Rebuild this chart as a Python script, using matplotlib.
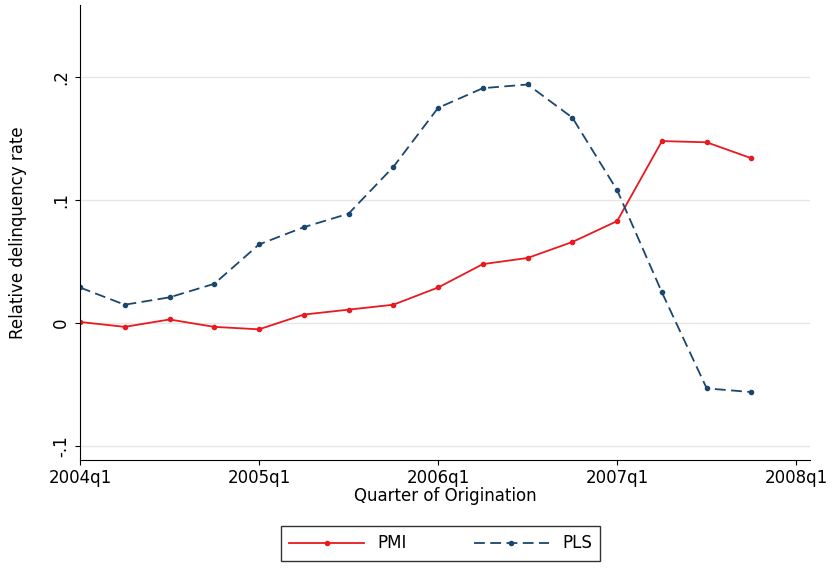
import numpy as np
import matplotlib
matplotlib.use('Agg')
import matplotlib.pyplot as plt

quarters = np.arange(16)  # 2004q1 .. 2007q4
pmi = [0.001, -0.003, 0.003, -0.003, -0.005, 0.007, 0.011, 0.015,
       0.029, 0.048, 0.053, 0.066, 0.083, 0.148, 0.147, 0.134]
pls = [0.029, 0.015, 0.021, 0.032, 0.064, 0.078, 0.089, 0.127,
       0.175, 0.191, 0.194, 0.167, 0.108, 0.025, -0.053, -0.056]
xtick_labels = ['2004q1', '2005q1', '2006q1', '2007q1', '2008q1']
yticks = [-0.1, 0, 0.1, 0.2]
ytick_labels = ['-.1', '0', '.1', '.2']

fig = plt.figure(figsize=(8.33, 5.69), dpi=100)
ax = fig.add_axes([0.096, 0.192, 0.876, 0.799])
for y in yticks:
    ax.axhline(y, color='#e6e6e6', lw=1, zorder=0)
ax.plot(quarters, pmi, color='#e8191f', lw=1.3, marker='o', ms=3, label='PMI')
ax.plot(quarters, pls, color='#1a476f', lw=1.3, ls=(0, (6, 3)), marker='o', ms=3,
        label='PLS')
ax.set_xlim(0, 16.3)
ax.set_ylim(-0.111, 0.2585)
ax.set_xticks([0, 4, 8, 12, 16])
ax.set_xticklabels(xtick_labels, fontsize=12)
ax.set_yticks(yticks)
ax.set_yticklabels(ytick_labels, fontsize=12, rotation=90, va='center')
for s in ['top', 'right']:
    ax.spines[s].set_visible(False)
ax.set_xlabel('Quarter of Origination', fontsize=12, labelpad=0)
ax.set_ylabel('Relative delinquency rate', fontsize=12, labelpad=18)
fig.legend(loc='lower center', bbox_to_anchor=(0.529, 0.0), ncol=2, fontsize=12,
           fancybox=False, edgecolor='black', handlelength=4.5, columnspacing=4,
           borderpad=0.5)
fig.savefig('out.png', dpi=100)
